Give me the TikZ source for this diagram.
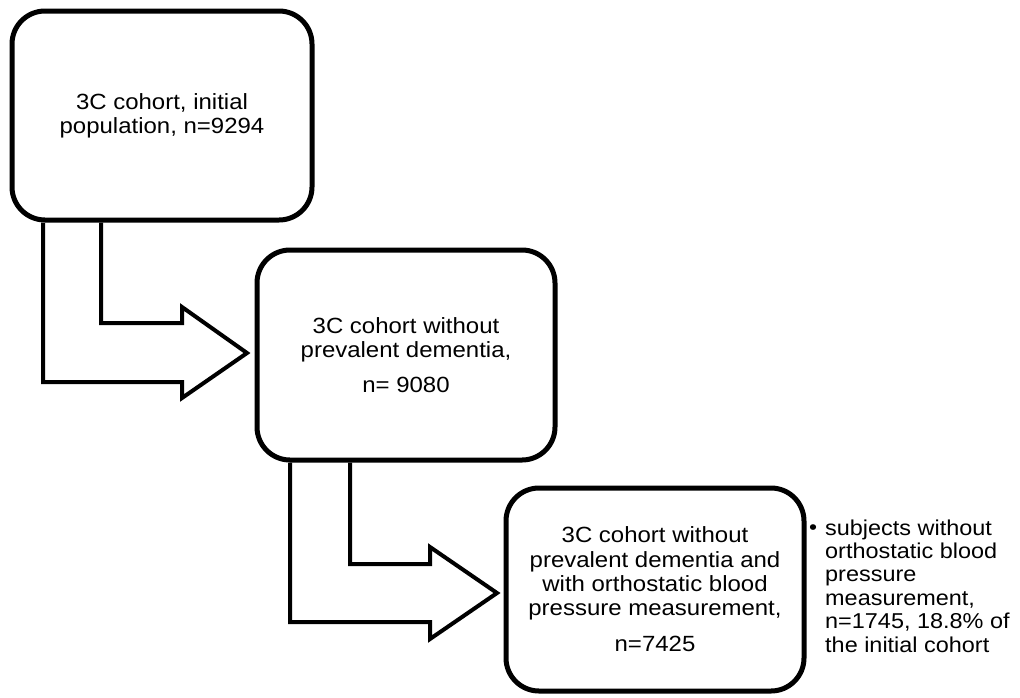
\documentclass[tikz,border=0pt]{standalone}
\usepackage{fontspec}
\setmainfont{Liberation Sans}[FakeStretch=1.09]
\newcommand\boxfont{\fontsize{22}{24.3}\selectfont}
\newcommand\notefont{\fontsize{21.5}{23.4}\selectfont}
\begin{document}
\begin{tikzpicture}[x=1pt,y=-1pt,
  box/.style={draw=black, line width=5pt, rounded corners=33pt, align=center,
    inner sep=0pt, font=\boxfont, minimum width=300pt},
  flow/.style={draw=black, line width=4pt, line join=miter}]
\useasboundingbox (0,0) rectangle (1020,697);
\node[box, minimum height=209pt] (b1) at (162,115.5) {3C cohort, initial\\population, n=9294};
\node[box, minimum height=210pt, minimum width=298pt] (b2) at (406,355) {3C cohort without\\prevalent dementia,\\[10pt]n= 9080};
\node[box, minimum height=203pt, minimum width=298pt] (b3) at (655,589.5) {3C cohort without\\prevalent dementia and\\with orthostatic blood\\pressure measurement,\\[12pt]n=7425};
% arrow 1
\draw[flow] (43,0 |- b1.south) -- (43,382) -- (182,382) -- (182,398) -- (247,353)
  -- (182,307) -- (182,323) -- (101,323) -- (101,0 |- b1.south);
% arrow 2
\draw[flow] (290,0 |- b2.south) -- (290,622) -- (430,622) -- (430,639) -- (497,593)
  -- (430,547) -- (430,564) -- (350,564) -- (350,0 |- b2.south);
\node[font=\fontsize{21}{21}\selectfont, anchor=base, inner sep=0pt] (bul) at (813,534) {\textbullet};
\node[anchor=base west, align=left, font=\notefont, inner sep=0pt] (note) at (825,652)
  {subjects without\\orthostatic blood\\pressure\\measurement,\\n=1745, 18.8\% of\\the initial cohort};
\end{tikzpicture}
\end{document}
